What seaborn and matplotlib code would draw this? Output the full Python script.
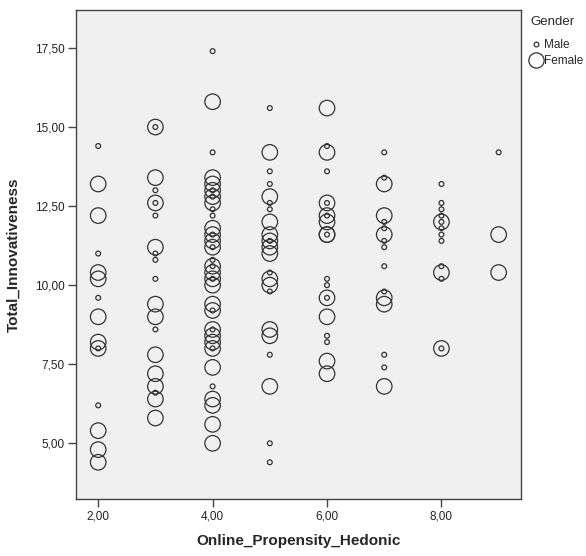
import numpy as np
import pandas as pd
import seaborn as sns
import matplotlib
matplotlib.use("Agg")
from matplotlib import pyplot as plt
from matplotlib.lines import Line2D
from matplotlib.ticker import FuncFormatter, FixedLocator

# Online_Propensity_Hedonic levels and Total_Innovativeness per gender
hedonic_levels = [2, 3, 4, 5, 6, 7, 8, 9]

male_scores = [
    [14.4, 11.0, 9.6, 8.0, 6.2],
    [15.0, 13.0, 12.6, 12.2, 11.0, 10.8, 10.2, 8.6, 6.6],
    [17.4, 14.2, 13.0, 12.8, 12.4, 12.2, 11.6, 11.2, 10.8, 10.6, 10.2, 9.2, 8.6, 8.0, 6.8],
    [15.6, 13.6, 13.2, 12.6, 12.4, 11.4, 10.4, 9.8, 7.8, 5.0, 4.4],
    [14.4, 13.6, 12.6, 12.2, 11.6, 10.2, 10.0, 9.6, 8.4, 8.2],
    [14.2, 13.4, 12.0, 11.8, 11.4, 11.2, 10.6, 9.8, 7.8, 7.4],
    [13.2, 12.6, 12.4, 12.2, 12.0, 11.8, 11.6, 11.4, 10.6, 10.2, 8.0],
    [14.2],
]

female_scores = [
    [13.2, 12.2, 10.4, 10.2, 9.0, 8.2, 8.0, 5.4, 4.8, 4.4],
    [15.0, 13.4, 12.6, 11.2, 9.4, 9.0, 7.8, 7.2, 6.8, 6.4, 5.8],
    [15.8, 13.4, 13.2, 13.0, 12.8, 12.6, 11.8, 11.6, 11.4, 11.2, 10.6, 10.4, 10.2,
     10.0, 9.4, 9.2, 8.6, 8.4, 8.2, 8.0, 7.4, 6.4, 6.2, 5.6, 5.0],
    [14.2, 12.8, 12.0, 11.6, 11.4, 11.2, 11.0, 10.2, 10.0, 8.6, 8.4, 6.8],
    [15.6, 14.2, 12.6, 12.2, 12.0, 11.6, 11.6, 9.6, 9.0, 7.6, 7.2],
    [13.2, 12.2, 11.6, 9.6, 9.4, 6.8],
    [12.0, 10.4, 8.0],
    [11.6, 10.4],
]

x_ticks = [2, 4, 6, 8]
y_ticks = [5.0, 7.5, 10.0, 12.5, 15.0, 17.5]

rows = []
for lvl, vals in zip(hedonic_levels, male_scores):
    rows += [(lvl, v, "Male") for v in vals]
for lvl, vals in zip(hedonic_levels, female_scores):
    rows += [(lvl, v, "Female") for v in vals]
data = pd.DataFrame(rows, columns=["Online_Propensity_Hedonic", "Total_Innovativeness", "Gender"])

sns.set_style("white")
plt.rcParams["font.family"] = ["Liberation Sans", "DejaVu Sans"]

edge = "#333333"
fig = plt.figure(figsize=(5.86, 5.56), dpi=100)
axis = fig.add_axes([0.129, 0.102, 0.76, 0.88])
axis.set_facecolor("#f0f0f0")

sns.scatterplot(data=data, x="Online_Propensity_Hedonic", y="Total_Innovativeness",
                size="Gender", sizes={"Male": 12, "Female": 125}, size_order=["Male", "Female"],
                facecolor="none", edgecolor=edge, linewidth=0.9, legend=False, ax=axis)
for coll in axis.collections:
    coll.set_facecolor("none")
    coll.set_edgecolor(edge)

axis.set_xlim(1.605, 9.39)
axis.set_ylim(3.23, 18.7)
axis.xaxis.set_major_locator(FixedLocator(x_ticks))
axis.yaxis.set_major_locator(FixedLocator(y_ticks))
fmt = FuncFormatter(lambda v, p: f"{v:.2f}".replace(".", ","))
axis.xaxis.set_major_formatter(fmt)
axis.yaxis.set_major_formatter(fmt)
axis.tick_params(axis="both", direction="out", length=6, width=1, color="#444444",
                 labelsize=8.5, labelcolor="#222222", pad=2,
                 bottom=True, left=True, top=False, right=False)
for sp in axis.spines.values():
    sp.set_color("#444444")
    sp.set_linewidth(1)

axis.set_xlabel("Online_Propensity_Hedonic", fontsize=11, fontweight="bold", labelpad=8)
axis.set_ylabel("Total_Innovativeness", fontsize=11, fontweight="bold", labelpad=10)

handles = [
    Line2D([], [], linestyle="", marker="o", markersize=3.4, markerfacecolor="none",
           markeredgecolor=edge, markeredgewidth=0.9, label="Male"),
    Line2D([], [], linestyle="", marker="o", markersize=11, markerfacecolor="none",
           markeredgecolor=edge, markeredgewidth=0.9, label="Female"),
]
leg = axis.legend(handles=handles, title="Gender", loc="upper left", bbox_to_anchor=(1.008, 1.0),
                  frameon=False, fontsize=8.5, title_fontsize=9.5, handlelength=1.0,
                  handletextpad=0.15, borderaxespad=0.3, borderpad=0.2, labelspacing=0.35)
leg._legend_box.align = "left"
leg._legend_box.sep = 8

fig.savefig("out.png", dpi=100)
